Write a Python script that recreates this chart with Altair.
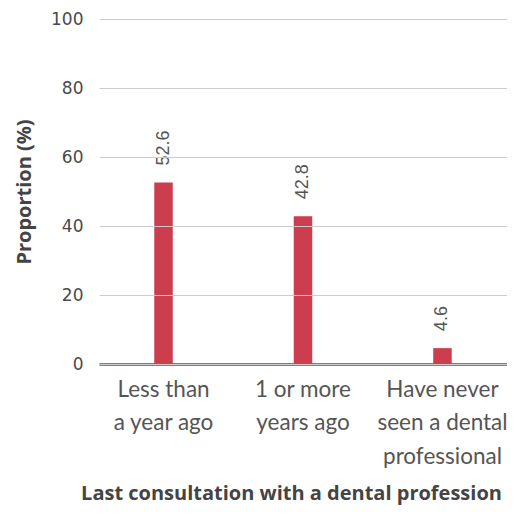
import altair as alt
import pandas as pd

categories = ["Less than|a year ago", "1 or more|years ago", "Have never|seen a dental|professional"]
values = [52.6, 42.8, 4.6]
labels = ["52.6", "42.8", "4.6"]

df = pd.DataFrame({"cat": categories, "val": values, "lab": labels})

x = alt.X("cat:N", sort=categories, title="Last consultation with a dental profession",
          scale=alt.Scale(paddingInner=0.075, paddingOuter=0),
          axis=alt.Axis(labelAngle=0, labelExpr="split(datum.label, '|')",
                        labelFont="Lato", labelFontSize=22.5, labelLineHeight=33.5,
                        labelColor="#555555", labelPadding=14, ticks=False,
                        domainColor="#555555", domainWidth=2.5,
                        titleFont="Open Sans", titleFontSize=20, titleFontWeight="bold",
                        titleColor="#444444", titlePadding=16, titleX=192))
y = alt.Y("val:Q", title="Proportion (%)",
          scale=alt.Scale(domain=[0, 100]),
          axis=alt.Axis(values=[0, 20, 40, 60, 80, 100], domain=False, ticks=False,
                        labelFont="DejaVu Sans", labelFontSize=17, labelColor="#4a4a4a",
                        labelPadding=16, gridColor="#cccccc", gridWidth=1.2,
                        titleFont="Open Sans", titleFontSize=20, titleFontWeight="bold",
                        titleColor="#444444", titlePadding=16, zindex=1))

bars = alt.Chart(df).mark_bar(color="#cc3d4d", size=18.5).encode(x=x, y=y)
text = alt.Chart(df).mark_text(angle=270, align="left", baseline="middle", dx=17,
                               font="Liberation Sans", fontSize=18, color="#555555").encode(
    x=alt.X("cat:N", sort=categories), y="val:Q", text="lab:N")

chart = (bars + text).properties(
    width=408, height=345,
    autosize=alt.AutoSizeParams(type="none"),
    padding={"left": 91, "top": 11, "right": 0, "bottom": 142},
).configure_view(stroke=None)

chart.save("out.html", embed_options={"renderer": "svg", "actions": False})
